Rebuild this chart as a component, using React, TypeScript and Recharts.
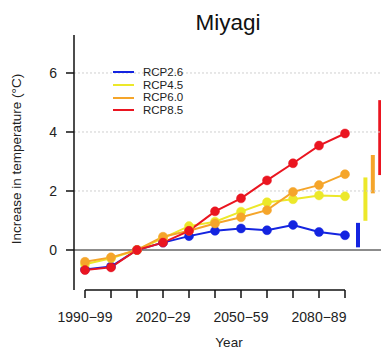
import React from 'react';
import { ComposedChart, Line, XAxis, YAxis, ReferenceLine, ReferenceArea } from 'recharts';

// decade labels along the x axis
const decades = ['1990−99', '2000−09', '2010−19', '2020−29', '2030−39', '2040−49', '2050−59', '2060−69', '2070−79', '2080−89', '2090−99'];

// ensemble-mean warming relative to 2010s (°C)
const rcp26 = [-0.66, -0.56, 0, 0.25, 0.47, 0.65, 0.73, 0.67, 0.85, 0.61, 0.5];
const rcp45 = [-0.48, -0.28, 0, 0.4, 0.81, 0.96, 1.3, 1.62, 1.72, 1.85, 1.82];
const rcp60 = [-0.4, -0.25, 0, 0.45, 0.65, 0.9, 1.11, 1.35, 1.97, 2.2, 2.57];
const rcp85 = [-0.68, -0.59, 0, 0.25, 0.65, 1.31, 1.75, 2.36, 2.94, 3.54, 3.95];

// spread of end-of-century warming (low, high)
const rangeLow = [0.09, 0.99, 1.92, 2.54];
const rangeHigh = [0.92, 2.46, 3.22, 5.08];

const scenarios = ['RCP2.6', 'RCP4.5', 'RCP6.0', 'RCP8.5'];
const colors = ['#1424e0', '#ece82a', '#f5a52a', '#ea1520'];
const keys = ['rcp26', 'rcp45', 'rcp60', 'rcp85'];

const yTicks = [0, 2, 4, 6];
const xLabelEvery = 3;

const rows = decades.map((d, i) => ({
  i,
  rcp26: rcp26[i],
  rcp45: rcp45[i],
  rcp60: rcp60[i],
  rcp85: rcp85[i],
}));

const font = '"Liberation Sans", Arial, sans-serif';
const Y_MIN = -1.356;
const Y_MAX = 7.288;

export default function App() {
  return (
    <div style={{ position: 'absolute', left: 0, top: 0, width: 381, height: 353, overflow: 'hidden', background: '#fff', fontFamily: font }}>
      <div style={{ position: 'absolute', left: 128, width: 200, top: 10, textAlign: 'center', fontSize: 22.5, color: '#111' }}>Miyagi</div>
      <div style={{ position: 'absolute', left: 16, top: 159, width: 0, height: 0 }}>
        <div style={{ position: 'absolute', transform: 'translate(-50%, -50%) rotate(-90deg)', whiteSpace: 'nowrap', fontSize: 13.5, color: '#222' }}>
          Increase in temperature (°C)
        </div>
      </div>
      <div style={{ position: 'absolute', left: 179, width: 100, top: 335, textAlign: 'center', fontSize: 13.5, color: '#222' }}>Year</div>

      <ComposedChart width={381} height={353} data={rows} margin={{ top: 35, right: 0, bottom: 33, left: 0 }}>
        <XAxis
          type="number"
          dataKey="i"
          domain={[-11 / 26, 296 / 26]}
          ticks={decades.map((_, i) => i)}
          interval={0}
          tickFormatter={(v: number) => (v % xLabelEvery === 0 ? decades[v] : '')}
          axisLine={false}
          tickLine={{ stroke: '#111', strokeWidth: 1.5 }}
          tickSize={8}
          tickMargin={14}
          tick={{ fill: '#222', fontSize: 14, fontFamily: font }}
          height={30}
          allowDataOverflow
        />
        <YAxis
          type="number"
          domain={[Y_MIN, Y_MAX]}
          ticks={yTicks}
          width={74}
          axisLine={{ stroke: '#111', strokeWidth: 1.5 }}
          tickLine={{ stroke: '#111', strokeWidth: 1.5 }}
          tickSize={8}
          tickMargin={9}
          tick={{ fill: '#222', fontSize: 14, fontFamily: font }}
          allowDataOverflow
        />
        {yTicks.slice(1).map((v) => (
          <ReferenceLine key={v} y={v} stroke="#cfcfcf" strokeDasharray="2 2" strokeWidth={1} />
        ))}
        <ReferenceLine y={0} stroke="#666" strokeWidth={1.5} />
        <ReferenceLine
          segment={[{ x: 0, y: Y_MIN }, { x: decades.length - 1, y: Y_MIN }]}
          stroke="#111"
          strokeWidth={1.5}
          ifOverflow="visible"
        />
        {rangeLow.map((lo, k) => {
          const c = 10.5 + k * 0.285;
          return (
            <ReferenceArea
              key={k}
              x1={c - 0.077}
              x2={c + 0.077}
              y1={lo}
              y2={rangeHigh[k]}
              fill={colors[k]}
              fillOpacity={1}
              stroke="none"
              ifOverflow="visible"
            />
          );
        })}
        {keys.map((k, j) => (
          <Line
            key={k}
            type="linear"
            dataKey={k}
            stroke={colors[j]}
            strokeWidth={2}
            dot={{ r: 4.5, fill: colors[j], stroke: colors[j], strokeWidth: 0.5 }}
            activeDot={false}
            isAnimationActive={false}
          />
        ))}
      </ComposedChart>

      <div style={{ position: 'absolute', left: 113, top: 66 }}>
        {scenarios.map((s, j) => (
          <div key={s} style={{ display: 'flex', alignItems: 'center', height: 12.7 }}>
            <div style={{ width: 21, height: 2, background: colors[j], marginRight: 9 }} />
            <span style={{ fontSize: 11.5, color: '#222', lineHeight: '12.7px' }}>{s}</span>
          </div>
        ))}
      </div>
    </div>
  );
}
